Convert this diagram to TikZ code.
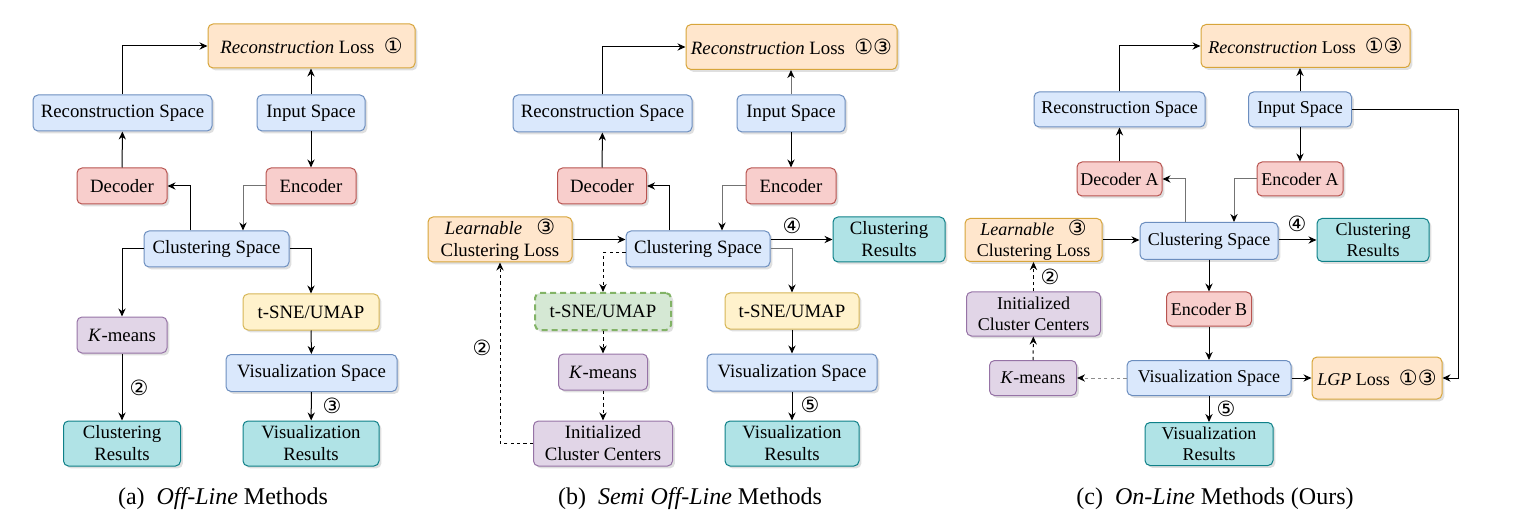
\documentclass[tikz,border=0pt]{standalone}
\usepackage{fontspec}
\setmainfont{Liberation Serif}
\newfontfamily\circfont{DejaVu Sans}
\usetikzlibrary{arrows.meta, positioning, calc, shadows}
\definecolor{spaceF}{HTML}{DAE8FC}\definecolor{spaceD}{HTML}{6C8EBF}
\definecolor{codeF}{HTML}{F8CECC}\definecolor{codeD}{HTML}{B85450}
\definecolor{lossF}{HTML}{FFE6CC}\definecolor{lossD}{HTML}{D7A53A}
\definecolor{projF}{HTML}{FFF2CC}\definecolor{projD}{HTML}{D6B656}
\definecolor{kmF}{HTML}{E1D5E7}\definecolor{kmD}{HTML}{9673A6}
\definecolor{optF}{HTML}{D5E8D4}\definecolor{optD}{HTML}{82B366}
\definecolor{resF}{HTML}{B0E3E6}\definecolor{resD}{HTML}{0E8088}
\newcommand{\cnum}[1]{{\circfont\fontsize{10.5}{11}\selectfont #1}}
\tikzset{
  box/.style={
    rectangle, draw, rounded corners=2.5pt, line width=0.5pt, inner sep=0pt,
    align=center, drop shadow={shadow xshift=1.2pt, shadow yshift=-1.2pt, opacity=0.25}
  },
  sz/.style 2 args={minimum width=#1*0.5pt, minimum height=#2*0.5pt},
  spacebox/.style={box, fill=spaceF, draw=spaceD},
  codebox/.style={box, fill=codeF, draw=codeD},
  lossbox/.style={box, fill=lossF, draw=lossD},
  projbox/.style={box, fill=projF, draw=projD},
  kmbox/.style={box, fill=kmF, draw=kmD},
  optbox/.style={box, fill=optF, draw=optD, dashed, line width=1pt, dash pattern=on 3pt off 2pt},
  resbox/.style={box, fill=resF, draw=resD},
  edge/.style={-{Stealth[length=4pt, width=3.6pt, color=black]}, line width=0.5pt},
  edgeg/.style={edge, draw=black!55},
  dedge/.style={edge, dash pattern=on 1.6pt off 1.6pt},
  num/.style={inner sep=0pt, font=\circfont\fontsize{10.5}{11}\selectfont},
  caption/.style={inner sep=0pt, font=\fontsize{12}{14}\selectfont}
}

\begin{document}
\begin{tikzpicture}[x=0.5pt, y=-0.5pt]
\useasboundingbox (0,0) rectangle (1523,524);

% (a) off-line
\begin{scope}[every node/.append style={font=\fontsize{9.4}{11}\selectfont}]
  \node[lossbox, sz={207}{44}] (lossA) at (311.5,46) {\textit{Reconstruction} Loss\ \ \cnum{①}};
  \node[spacebox, sz={179}{36}] (rsA) at (122.5,113) {Reconstruction Space};
  \node[spacebox, sz={108}{36}] (inA) at (311,113) {Input Space};
  \node[codebox, sz={90}{36}] (decA) at (122,186) {Decoder};
  \node[codebox, sz={90}{36}] (encA) at (311,186) {Encoder};
  \node[spacebox, sz={145}{36}] (csA) at (216.5,249) {Clustering Space};
  \node[kmbox, sz={90}{36}] (kmA) at (122,335) {\textit{K}-means};
  \node[projbox, sz={136}{36}] (tsA) at (311,312) {t-SNE/UMAP};
  \node[spacebox, sz={171}{37}] (vsA) at (311.5,373) {Visualization Space};
  \node[resbox, sz={117}{45}] (crA) at (122,443.5) {Clustering\\Results};
  \node[resbox, sz={136}{45}] (vrA) at (311,443.5) {Visualization\\Results};
  \node[num] (n2A) at (139,388) {②};
  \node[num] (n3A) at (332,406) {③};
  \node[caption] (capA) at (223,499) {(a)\ \ \textit{Off-Line} Methods};
\end{scope}
\draw[edge] (rsA.north) |- (lossA.west);
\draw[edge] (inA.north) -- (inA.north |- lossA.south);
\draw[edge] (inA) -- (encA);
\draw[edge] (decA) -- (rsA);
\draw[edge] ($(csA.north)+(-26.5,0)$) |- (decA.east);
\draw[edgeg] (encA.west) -| ($(csA.north)+(26.5,0)$);
\draw[edge] (csA.west) -| (kmA.north);
\draw[edge] (csA.east) -| (tsA.north);
\draw[edge] (tsA) -- (vsA);
\draw[edge] (vsA) -- (vrA);
\draw[edge] (kmA) -- (crA);

% (b) semi off-line
\begin{scope}[every node/.append style={font=\fontsize{9.4}{11}\selectfont}]
  \node[lossbox, sz={211}{45}] (lossB) at (791.5,47) {\textit{Reconstruction} Loss\ \ \cnum{①③}};
  \node[spacebox, sz={179}{37}] (rsB) at (602.5,113.5) {Reconstruction Space};
  \node[spacebox, sz={108}{37}] (inB) at (791,113.5) {Input Space};
  \node[codebox, sz={89}{36}] (decB) at (602,186) {Decoder};
  \node[codebox, sz={90}{36}] (encB) at (791,186) {Encoder};
  \node[spacebox, sz={144}{36}] (csB) at (698,249) {Clustering Space};
  \node[lossbox, sz={144}{45}] (lcB) at (500,239.5) {\textit{Learnable}\ \ \ \cnum{③}\\Clustering Loss};
  \node[resbox, sz={112}{45}] (crB) at (889,239.5) {Clustering\\Results};
  \node[optbox, sz={136}{37}] (tgB) at (603,311.5) {t-SNE/UMAP};
  \node[kmbox, sz={89}{36}] (kmB) at (603,372) {\textit{K}-means};
  \node[kmbox, sz={139}{45}] (icB) at (603,443.5) {Initialized\\Cluster Centers};
  \node[projbox, sz={134}{36}] (tsB) at (792,311) {t-SNE/UMAP};
  \node[spacebox, sz={170}{37}] (vsB) at (792,372.5) {Visualization Space};
  \node[resbox, sz={134}{45}] (vrB) at (792,443.5) {Visualization\\Results};
  \node[num] (n2B) at (482,348) {②};
  \node[num] (n4B) at (792,226) {④};
  \node[num] (n5B) at (810,405) {⑤};
  \node[caption] (capB) at (690,499) {(b)\ \ \textit{Semi Off-Line} Methods};
\end{scope}
\draw[edge] (rsB.north) |- (lossB.west);
\draw[edgeg] (inB.north) -- (inB.north |- lossB.south);
\draw[edge] (inB) -- (encB);
\draw[edge] (decB) -- (rsB);
\draw[edge] ($(csB.north)+(-29,0)$) |- (decB.east);
\draw[edgeg] (encB.west) -| ($(csB.north)+(24,0)$);
\draw[edge] (lcB.east) -- (lcB.east -| csB.west);
\draw[edge] (crB.west -| csB.east) -- (crB.west);
\draw[edgeg] (csB.east) -| (tsB.north);
\draw[dedge] ($(csB.west)+(0,4)$) -| (tgB.north);
\draw[dedge] (tgB) -- (kmB);
\draw[dedge] (kmB) -- (icB);
\draw[dedge] (icB.west) -| (lcB.south);
\draw[edge] (tsB) -- (vsB);
\draw[edge] (vsB) -- (vrB);

% (c) on-line
\begin{scope}[every node/.append style={font=\fontsize{9}{10.6}\selectfont}]
  \node[lossbox, sz={209}{43}] (lossC) at (1305.5,46) {\textit{Reconstruction} Loss\ \ \cnum{①③}};
  \node[spacebox, sz={171}{35}] (rsC) at (1119.5,109.5) {Reconstruction Space};
  \node[spacebox, sz={103}{35}] (inC) at (1300,109.5) {Input Space};
  \node[codebox, sz={85}{34}] (decC) at (1119.5,179) {Decoder A};
  \node[codebox, sz={86}{34}] (encC) at (1300,179) {Encoder A};
  \node[spacebox, sz={138}{37}] (csC) at (1209,241) {Clustering Space};
  \node[lossbox, sz={137}{43}] (lcC) at (1033.5,240) {\textit{Learnable}\ \ \ \cnum{③}\\Clustering Loss};
  \node[resbox, sz={112}{43}] (crC) at (1373,240) {Clustering\\Results};
  \node[codebox, sz={85}{34}] (ebC) at (1209,309) {Encoder B};
  \node[spacebox, sz={164}{35}] (vsC) at (1209,378) {Visualization Space};
  \node[lossbox, sz={130}{42}] (lgC) at (1377,378) {\textit{LGP} Loss\ \ \cnum{①③}};
  \node[kmbox, sz={87}{35}] (kmC) at (1033,378) {\textit{K}-means};
  \node[kmbox, sz={134}{44}] (icC) at (1033.5,314) {Initialized\\Cluster Centers};
  \node[resbox, sz={128}{43}] (vrC) at (1209,444) {Visualization\\Results};
  \node[num] (n2C) at (1050,277) {②};
  \node[num] (n4C) at (1297,224) {④};
  \node[num] (n5C) at (1226,409) {⑤};
  \node[caption] (capC) at (1215,499) {(c)\ \ \textit{On-Line} Methods (Ours)};
\end{scope}
\coordinate (rtC) at (1458,109.5);
\draw[edge] (rsC.north) |- (lossC.west);
\draw[edge] (inC.north) -- (inC.north |- lossC.south);
\draw[edge] (inC) -- (encC);
\draw[edge] (decC) -- (rsC);
\draw[edgeg] ($(csC.north)+(-24,0)$) |- (decC.east);
\draw[edgeg] (encC.west) -| ($(csC.north)+(25,0)$);
\draw[edge] (lcC.east) -- (lcC.east -| csC.west);
\draw[edge] (crC.west -| csC.east) -- (crC.west);
\draw[edge] (csC) -- (ebC);
\draw[edge] (ebC) -- (vsC);
\draw[edge] (vsC) -- (lgC);
\draw[edge] (inC.east) -- (rtC) |- (lgC.east);
\draw[dedge, draw=black!45] (vsC) -- (kmC);
\draw[dedge] (kmC) -- (icC);
\draw[dedge] (icC) -- (lcC);
\draw[edge] (vsC) -- (vrC);
\end{tikzpicture}
\end{document}
